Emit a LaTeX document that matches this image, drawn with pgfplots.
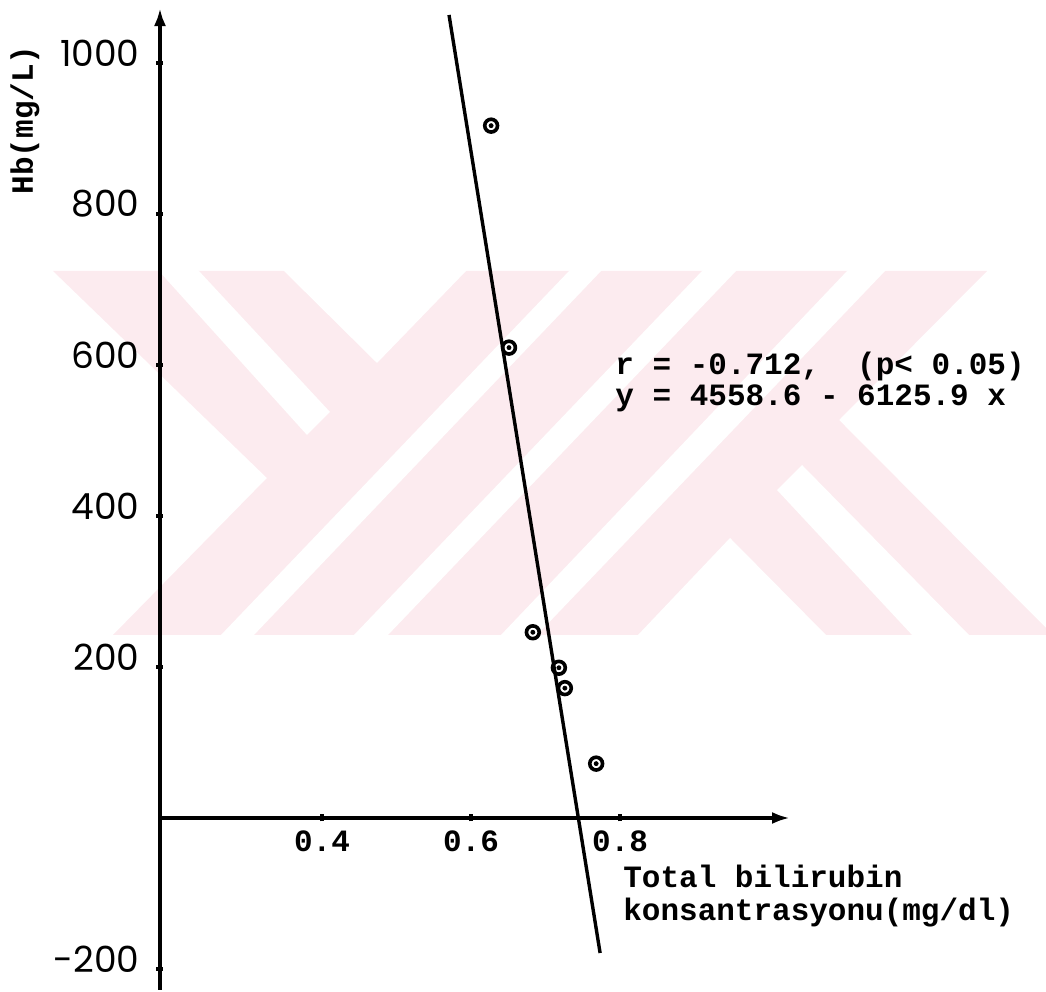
\documentclass[border=0pt]{standalone}
\usepackage{fontspec}
\usepackage{pgfplots}
\usepackage{pgfplotstable}
\pgfplotsset{compat=1.18}
\usetikzlibrary{arrows.meta,backgrounds}

\newfontfamily\twfont{Liberation Mono}
\newfontfamily\numfont{Poppins}
\newcommand\tw{\twfont\bfseries\fontsize{15.5}{18}\selectfont}
\newcommand\nf{\numfont\fontsize{18}{21}\selectfont}
\definecolor{wmpink}{RGB}{252,235,239}

% Hb against total bilirubin, one row per subject
\pgfplotstableread{
x      y
0.627  917
0.651  623
0.683  246
0.718  199
0.726  172
0.768  72
}\hbdata

% regression line y = 4558.6 - 6125.9 x, end points
\pgfplotstableread{
x       y
0.5705  1063.6
0.7733  -178.8
}\fitline

\begin{document}
\begin{tikzpicture}
\begin{axis}[
  x=372.5pt, y=0.3775pt,
  xmin=0.18255, xmax=1.0282,
  ymin=-227.8, ymax=1072.8,
  axis x line=middle, axis y line=left,
  axis line style={black, line width=2pt, -{Latex[length=9pt,width=6pt]}},
  xtick={0.4,0.6,0.8}, xticklabels={0.4,0.6,0.8},
  ytick={-200,200,400,600,800,1000},
  yticklabels={-200,200,400,600,800,1000},
  tick style={black, line width=2.4pt},
  major tick length=3.5pt, tick align=center,
  xticklabel style={font=\tw, anchor=north, yshift=-1pt},
  yticklabel style={font=\nf, anchor=east, xshift=-5pt, yshift=5pt},
  clip=false,
]
\coordinate (O) at (axis cs:-0.03221,1083.44);
\coordinate (E) at (axis cs:1.37181,-230.46);

\addplot[black, line width=1.7pt, no markers] table[x=x,y=y] {\fitline};
\addplot[only marks, mark=o, mark size=3.2pt, black, mark options={line width=1.8pt}]
  table[x=x,y=y] {\hbdata};
\addplot[only marks, mark=*, mark size=1.0pt, black] table[x=x,y=y] {\hbdata};

\node[anchor=base west, font=\tw, inner sep=0pt] at (axis cs:0.7933,586.8)
  {r~=~-0.712,~~(p<~0.05)};
\node[anchor=base west, font=\tw, inner sep=0pt] at (axis cs:0.7933,547.0)
  {y~=~4558.6~-~6125.9~x};
\node[anchor=base west, font=\tw, inner sep=0pt] at (axis cs:0.8040,-92.7)
  {Total bilirubin};
\node[anchor=base west, font=\tw, inner sep=0pt] at (axis cs:0.8040,-136.4)
  {konsantrasyonu(mg/dl)};
\node[rotate=90, font=\tw, inner sep=0pt] at (axis cs:0.0013,924.5) {Hb(mg/L)};
\end{axis}

% pale background emblem, in half-point units from the top left corner
\begin{scope}[on background layer, shift={(O)}, x=0.5pt, y=-0.5pt]
  \fill[wmpink] (53,271) -- (987,271) -- (839,420) -- (1053,635)
    -- (113,635) -- (267,478) -- cycle;
  \fill[white] (158,270) -- (198,270) -- (330,412) -- (307,435) -- cycle;
  \fill[white] (283,270) -- (467,270) -- (377,363) -- cycle;
  \fill[white] (220,636) -- (253,636) -- (602,270) -- (570,270) -- cycle;
  \fill[white] (353,636) -- (387,636) -- (737,270) -- (703,270) -- cycle;
  \fill[white] (500,636) -- (536,636) -- (886,270) -- (848,270) -- cycle;
  \fill[white] (637,636) -- (730,538) -- (827,636) -- cycle;
  \fill[white] (777,490) -- (802,465) -- (970,636) -- (913,636) -- cycle;
\end{scope}

\pgfresetboundingbox
\path[use as bounding box] (O) rectangle (E);
\end{tikzpicture}
\end{document}
